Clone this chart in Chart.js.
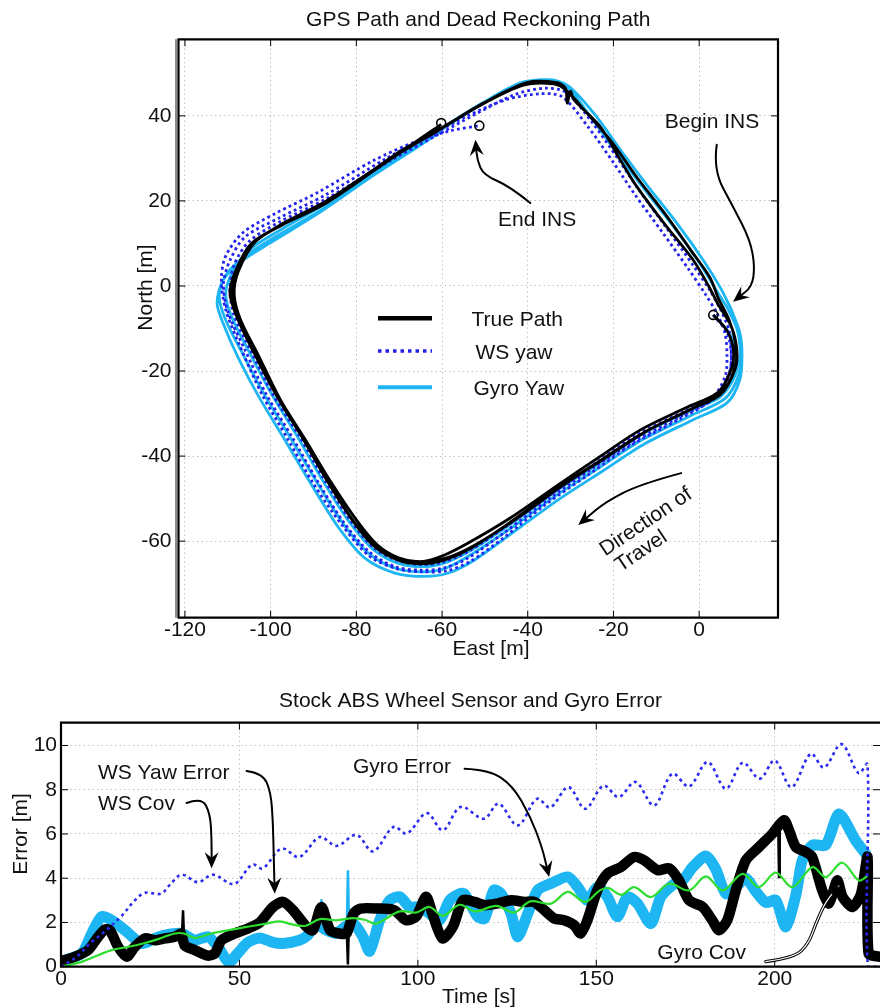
<!DOCTYPE html>
<html>
<head>
<meta charset="utf-8">
<script src="https://cdn.jsdelivr.net/npm/chart.js@4.4.0/dist/chart.umd.min.js"></script>
<style>
  html, body { margin: 0; padding: 0; background: #fff; overflow: hidden; }
  #pathBox { position: absolute; left: 0; top: 0; width: 880px; height: 670px; }
  #errorBox { position: absolute; left: 0; top: 670px; width: 880px; height: 345px; }
</style>
</head>
<body>
<div id="pathBox"><canvas id="graficoPath" width="880" height="670"></canvas></div>
<div id="errorBox"><canvas id="graficoErro" width="880" height="345"></canvas></div>
<script>
// ---- top plot: east / north in metres, one array per lap ----
const truePathLap1 = [[3.3,-6.8],[6.5,-10.5],[8,-15],[7.5,-19.5],[4.4,-25],[-3,-28.6],[-13.8,-33.9],[-23,-40],[-32.4,-46.4],[-44,-54.5],[-54,-60.5],[-60,-63.5],[-65,-64.8],[-70,-64],[-75,-61],[-80,-55],[-86,-46],[-92,-36],[-97.7,-26.8],[-103,-16],[-107,-8],[-108.5,-2],[-107.5,3.5],[-103.5,10.5],[-97,14.5],[-86,20.2],[-70,31.5],[-60.2,37.1],[-50.3,43],[-40.2,47.8],[-33.2,47.8],[-31.2,46.5],[-30.8,43],[-30,45.8],[-29.3,43.9],[-23.1,37.5],[-18.4,29.6],[-14.5,23.3],[-8,14.5],[-1.4,6.1],[2.2,0],[4.5,-4.5]];
const truePathLap2 = [[4.5,-4.5],[7.5,-9.5],[8.8,-15],[8.4,-19.5],[5,-25.5],[-2,-29],[-13,-34.5],[-23,-41],[-33,-47.5],[-44,-55.5],[-53,-61.5],[-59,-64.3],[-64,-65.3],[-69.5,-64.7],[-75.5,-61.5],[-81,-55],[-87,-45.5],[-93,-35],[-98.5,-26],[-104,-15.5],[-108,-7],[-109.5,-1.5],[-108,4],[-104.5,10],[-98,14],[-87,19.5],[-71,30.5],[-61,36.5],[-51,42.5],[-41,47.2],[-34,47.5],[-31,46],[-26.5,41],[-20.5,34],[-14.5,25.5],[-8,17],[-2,8.5],[2.5,2],[4.5,-3]];
const truePathLap3 = [[4.5,-3],[7,-8],[8.4,-13],[8.6,-18],[6,-24],[-1,-28.5],[-12,-34],[-22,-40.5],[-32,-47],[-43,-55],[-52.5,-61],[-58.5,-63.8],[-63.5,-64.8],[-69,-64.3],[-75,-61.2],[-80.5,-55.5],[-86.5,-46],[-92.5,-35.5],[-98,-26.5],[-103.5,-16],[-107.5,-7.5],[-109,-2],[-108,3.5],[-104,10],[-97.5,14.5],[-87,20],[-75,28],[-66,34],[-60.2,38]];

const wsYawLap1 = [[3.3,-6.8],[6.5,-11],[7.5,-16],[7,-20.5],[4,-25.5],[-3.5,-29.5],[-14.5,-35],[-24,-41.5],[-34,-48.5],[-45,-56.5],[-54,-62.5],[-60,-65],[-65,-65.5],[-70.5,-64.5],[-76,-61.5],[-81.5,-55],[-87.5,-45.5],[-93.5,-35],[-99.5,-25.5],[-104.5,-15.5],[-108.5,-7],[-109.5,-1],[-108.5,5],[-105,10.5],[-98,15],[-87,20.5],[-72,29.5],[-62,35],[-52,40.5],[-43,45],[-36,46.5],[-31,45.5],[-25,38.5],[-19,30],[-14,22.5],[-7.5,13.5],[-1.5,5],[2.5,-1],[5,-5.5]];
const wsYawLap2 = [[5,-5.5],[7,-10.5],[7.5,-16],[7,-21],[3.5,-26.5],[-4,-30.5],[-15,-36.5],[-25,-43],[-35,-50],[-45.5,-58],[-54,-64],[-59.5,-66.3],[-65,-66.8],[-71,-66],[-77,-62.5],[-83,-55.5],[-89,-46],[-95,-35.5],[-101,-25.5],[-106,-15],[-110,-6],[-111,0.5],[-109.5,6],[-106,11.5],[-98,16],[-87,21.5],[-73,30],[-63,35.3],[-54,40],[-45,43.8],[-37,45.2],[-32,44.5],[-26,37.5],[-20,29],[-15,21.5],[-8.5,12.5],[-2.5,4],[1.5,-2],[4,-6]];
const wsYawLap3 = [[4,-6],[6,-11],[6.5,-16.5],[6,-21.5],[2.5,-27],[-5,-31.5],[-16,-37.5],[-26,-44.5],[-36,-51.5],[-46,-59.5],[-53.5,-64.8],[-59,-67],[-64.5,-67.2],[-70.5,-66.5],[-77,-63.5],[-83.5,-56],[-90,-46.5],[-96,-36],[-102,-25.5],[-107,-14.5],[-110.5,-5.5],[-111.5,1.5],[-110.5,7],[-106.5,12.5],[-99,17],[-89,22],[-76,29.5],[-66,34],[-58,36.5],[-51.3,37.7]];

const gyroYawLap1 = [[3.3,-6.8],[7,-11],[8.8,-16],[8.4,-21],[5,-26],[-2.5,-29.5],[-13.5,-35],[-23,-41.5],[-33,-48],[-44,-56],[-53,-62],[-59,-65],[-64,-66],[-70,-65.3],[-76,-62],[-82,-55],[-88,-45.5],[-94,-35],[-100,-25],[-105,-15.5],[-109,-7.5],[-110.5,-2],[-109,3],[-105,8.5],[-98,13],[-87,19.5],[-72,30],[-61,36.5],[-51,42.8],[-41,48],[-34,48],[-30.5,46.5],[-25.5,40],[-19,31],[-13,23],[-6,14],[0,5.5],[4,-1],[6.5,-5]];
const gyroYawLap2 = [[6.5,-5],[8.8,-10],[9.6,-15.5],[9.2,-21],[6,-26.5],[-2,-30.5],[-13,-36],[-23,-42.5],[-33,-49],[-44,-57],[-53,-63],[-59,-66.3],[-64,-67.2],[-70.5,-66.5],[-77,-63],[-83,-56],[-89,-46.5],[-95.5,-35.5],[-101.5,-25.5],[-106.5,-16],[-110.5,-8],[-112,-2.5],[-110.5,2.5],[-106,7],[-99,11.5],[-88,18],[-73,28.5],[-62,35.5],[-52,42],[-42,47.5],[-35,48.5],[-30.5,47],[-24.5,40.5],[-18,31.5],[-12,23.5],[-5,14.5],[1,6],[5,-0.5],[7.5,-5.5]];
const gyroYawLap3 = [[7.5,-5.5],[9.5,-11],[10,-16],[9.5,-22],[6.5,-27.5],[-1.5,-31.5],[-12.5,-37],[-22.5,-43.5],[-32.5,-50],[-43.5,-58],[-52.5,-64.5],[-58.5,-67.5],[-64,-68.3],[-71,-67.5],[-78,-64],[-84,-57],[-90,-47.5],[-96.5,-36.5],[-102.5,-26.5],[-107.5,-17],[-111,-9],[-112.5,-4],[-111,1.5],[-106.5,6],[-99.5,10.5],[-89,17],[-76,26],[-66,32.5],[-60,36.5]];

const insMarks = [[3.3,-6.8],[-51.3,37.7],[-60.2,38.3]];

const eastTicks = [-120, -100, -80, -60, -40, -20, 0];
const northTicks = [-60, -40, -20, 0, 20, 40];

// ---- bottom plot: time [s] / error [m] ----
const wsCov = [[0,0],[4.4,0.45],[8.1,1.05],[12.3,1.6],[17,2.3],[20.7,3.0],[23.5,3.34],[28,3.3],[30.5,3.7],[33.8,4.16],[38.4,3.82],[42.6,4.16],[48.5,3.74],[53.6,4.62],[56.5,4.44],[61.8,5.34],[66.8,4.96],[72.5,5.86],[77.2,5.46],[82.8,5.96],[87.4,5.21],[93.2,6.32],[96.9,6.02],[102.5,6.94],[107,6.17],[112,7.22],[118.5,6.69],[122.6,7.37],[128,6.39],[133.4,7.59],[137.1,7.2],[142.2,8.12],[146.9,7.14],[152,8.18],[156.3,7.67],[161,8.35],[166.2,7.29],[171.3,8.72],[176,8.15],[181.2,9.25],[186.3,8.05],[191,9.22],[195.8,8.5],[200,9.32],[204.7,8.12],[210.1,9.62],[213.8,9.0],[218.7,10.06],[223.5,8.75],[226,9.15],[226.1,0],[229.5,0]];
const gyroCov = [[0,0],[5.8,0.22],[10.4,0.52],[14.2,0.75],[19,0.9],[23,1.05],[26.3,1.2],[31.9,1.5],[34.5,1.5],[37.5,1.3],[42.2,1.5],[47,1.65],[52,1.8],[57.6,1.95],[61.3,2.05],[65,1.9],[68.5,1.85],[72.5,2.15],[77.2,2.1],[82,2.2],[85.5,2.1],[88.3,1.95],[94.9,2.5],[99.5,2.45],[103.3,2.7],[107,2.3],[111.7,2.8],[116,2.5],[122,2.75],[127,2.45],[131.5,2.95],[137.3,2.85],[142,3.38],[146.8,2.93],[151,3.45],[153.5,3.55],[157,3.25],[160.6,3.6],[165.3,3.15],[170.4,3.75],[176,3.45],[180.7,4.08],[185.4,3.45],[191,4.2],[195.5,3.6],[200.3,4.25],[204.9,3.6],[210.6,4.5],[214.3,4.05],[218.9,4.7],[223.6,3.9],[226,4.1]];
const wsYawError = [[0,0.25],[3.9,0.45],[7.6,0.75],[10.4,1.35],[12.3,1.68],[13.7,1.65],[16,0.9],[18.4,0.45],[20.7,0.9],[23.5,1.28],[26.3,1.2],[29.1,1.28],[31.9,1.35],[33.6,1.5],[34.7,0.95],[37.5,0.75],[41.2,0.5],[43.1,0.6],[45,1.2],[48.7,1.5],[52.4,1.73],[55.7,2.0],[59.4,2.7],[62.2,2.93],[65,2.56],[68.8,1.8],[70.6,1.65],[73,2.7],[75.4,1.65],[78.1,1.5],[80,1.5],[82,2.4],[83.9,2.63],[88.6,2.63],[93.3,2.56],[96.7,2.1],[99.5,2.26],[102.3,3.16],[104.2,2.33],[106.9,1.28],[109.8,1.8],[112.6,3.0],[115.9,2.93],[118.7,2.78],[122.4,2.86],[126.1,3.0],[129.9,2.93],[132.6,2.93],[135.4,2.56],[138.2,2.18],[141,2.1],[143.8,1.88],[145.6,1.5],[147.5,2.1],[150.3,3.46],[153.1,4.2],[156.9,4.5],[160.6,4.96],[163.4,4.81],[167.2,4.36],[170.4,4.45],[173.2,3.9],[176,3.0],[179.8,2.7],[182.5,2.1],[184.4,1.65],[186.7,2.1],[189.1,3.46],[191.9,4.81],[195.6,5.41],[199.4,6.02],[202.6,6.62],[204,6.17],[205.9,5.41],[208.7,5.19],[210.5,4.96],[213.3,3.46],[215.2,2.86],[217.5,3.9],[219,3.16],[221.8,2.7],[224.2,3.3],[226,4.96],[226.3,0.6],[229.5,0.45]];
const gyroError = [[0,0.23],[5.8,0.6],[8.6,1.5],[11.4,2.26],[14.2,2.1],[17.9,1.65],[22.6,1.05],[26.3,1.28],[29.1,1.43],[33.8,1.5],[37.5,1.2],[41.2,1.35],[44,0.9],[47,0.2],[49.5,0.6],[52.4,1.1],[55.7,1.3],[59.4,1.1],[62.2,1.05],[66.8,1.2],[69,1.4],[71.5,1.9],[74.4,1.65],[77.2,1.5],[79.5,1.8],[82,1.95],[84.6,1.35],[86.5,0.7],[89.3,2.1],[92.1,3.0],[94.9,3.16],[97.7,2.7],[100.5,2.7],[103.3,2.4],[106.1,2.1],[108.9,3.0],[111.7,3.3],[113,3.3],[116.8,2.26],[118.7,2.18],[121.3,3.46],[123.3,3.3],[126.1,2.4],[128,1.35],[130.8,2.4],[133.6,3.46],[137.3,3.76],[142,4.06],[144.8,3.6],[147.5,3.0],[150.3,3.6],[153.1,3.16],[155.9,2.26],[158.7,3.16],[161.5,2.86],[165.3,1.95],[168.1,3.16],[171.9,3.76],[174.2,3.9],[177,4.5],[180.7,5.0],[183.5,4.4],[186.3,3.3],[189.1,3.6],[191.9,4.0],[194.7,3.4],[197.5,2.9],[200.3,3.0],[203.1,1.8],[206,3.3],[207.7,4.8],[210.6,5.5],[214.3,5.5],[218,6.9],[222.7,5.7],[225.5,5.1]];
const wsYawSpikes = [[33.9,1.45],[34.2,2.55],[34.5,1.2],null,[80.1,1.5],[80.4,0.1],[80.7,2.2],null,[201.0,6.2],[201.2,4.05],[201.4,6.3]];
const gyroSpikes = [[72.7,2.0],[73,3.05],[73.3,1.9],null,[80.1,1.8],[80.4,4.36],[80.7,1.9]];

const timeTicks = [0, 50, 100, 150, 200];
const errorTicks = [0, 2, 4, 6, 8, 10];

Chart.defaults.font.family = "'Liberation Sans', Arial, Helvetica, sans-serif";
Chart.defaults.font.size = 21;
Chart.defaults.color = '#111';
Chart.defaults.animation = false;

const pts = arr => arr.map(p => p ? { x: p[0], y: p[1] } : { x: null, y: null });
const fixTicks = values => scale => { scale.ticks = values.map(v => ({ value: v })); };

function drawCurve(ctx, p) {
    ctx.beginPath();
    ctx.moveTo(p[0][0], p[0][1]);
    for (let i = 1; i < p.length - 1; i++) {
        const mx = (p[i][0] + p[i + 1][0]) / 2;
        const my = (p[i][1] + p[i + 1][1]) / 2;
        ctx.quadraticCurveTo(p[i][0], p[i][1], mx, my);
    }
    ctx.lineTo(p[p.length - 1][0], p[p.length - 1][1]);
    ctx.stroke();
}

function drawHead(ctx, from, tip, len, half) {
    const a = Math.atan2(tip[1] - from[1], tip[0] - from[0]);
    const c = Math.cos(a), s = Math.sin(a);
    ctx.beginPath();
    ctx.moveTo(tip[0], tip[1]);
    ctx.lineTo(tip[0] - len * c + half * s, tip[1] - len * s - half * c);
    ctx.lineTo(tip[0] - len * 0.65 * c, tip[1] - len * 0.65 * s);
    ctx.lineTo(tip[0] - len * c - half * s, tip[1] - len * s + half * c);
    ctx.closePath();
    ctx.fill();
}

// frame, inner ticks, notes, arrows, legend and axis titles
function notesPlugin(cfg) {
    return {
        id: 'notas',
        afterDatasetsDraw(chart) {
            const ctx = chart.ctx, a = chart.chartArea;
            const sx = chart.scales.x, sy = chart.scales.y;
            const toPx = p => [sx.getPixelForValue(p[0]), sy.getPixelForValue(p[1])];
            ctx.save();

            ctx.strokeStyle = '#000';
            ctx.lineWidth = 1;
            ctx.beginPath();
            sx.ticks.forEach(t => {
                const x = sx.getPixelForValue(t.value);
                ctx.moveTo(x, a.bottom); ctx.lineTo(x, a.bottom - 7);
                ctx.moveTo(x, a.top); ctx.lineTo(x, a.top + 7);
            });
            sy.ticks.forEach(t => {
                const y = sy.getPixelForValue(t.value);
                ctx.moveTo(a.left, y); ctx.lineTo(a.left + 7, y);
                ctx.moveTo(a.right, y); ctx.lineTo(a.right - 7, y);
            });
            ctx.stroke();

            ctx.lineWidth = 2.2;
            ctx.beginPath();
            if (cfg.rightEdge) {
                ctx.rect(a.left, a.top, a.right - a.left, a.bottom - a.top);
            } else {
                ctx.moveTo(a.right + 2, a.top); ctx.lineTo(a.left, a.top);
                ctx.lineTo(a.left, a.bottom); ctx.lineTo(a.right + 2, a.bottom);
            }
            ctx.stroke();
            if (cfg.grayEdge) {
                ctx.strokeStyle = '#8a8a8a';
                ctx.lineWidth = 2;
                ctx.beginPath();
                ctx.moveTo(a.left - 2.5, a.top); ctx.lineTo(a.left - 2.5, a.bottom);
                ctx.stroke();
            }

            ctx.fillStyle = '#111';
            ctx.textBaseline = 'middle';
            ctx.font = "21px 'Liberation Sans', Arial, sans-serif";
            cfg.texts.forEach(n => {
                const p = toPx(n.at);
                ctx.save();
                ctx.translate(p[0], p[1]);
                ctx.rotate((n.rot || 0) * Math.PI / 180);
                ctx.textAlign = n.align || 'center';
                ctx.fillText(n.text, 0, 0);
                ctx.restore();
            });

            cfg.arrows.forEach(ar => {
                const p = ar.pts.map(toPx);
                ctx.lineCap = 'round';
                ctx.lineJoin = 'round';
                if (ar.hollow) {
                    ctx.strokeStyle = '#000'; ctx.lineWidth = 3.2;
                    drawCurve(ctx, p);
                    ctx.strokeStyle = '#fff'; ctx.lineWidth = 1.2;
                    drawCurve(ctx, p);
                } else {
                    ctx.strokeStyle = '#000'; ctx.lineWidth = 2;
                    drawCurve(ctx, p.slice(0, -1).concat([[
                        p[p.length - 1][0] - (p[p.length - 1][0] - p[p.length - 2][0]) * 0.3,
                        p[p.length - 1][1] - (p[p.length - 1][1] - p[p.length - 2][1]) * 0.3
                    ]]));
                }
                ctx.fillStyle = '#000';
                drawHead(ctx, p[p.length - 2], p[p.length - 1], 16, 7);
            });

            (cfg.legend || []).forEach(g => {
                const y = a.top + g.dy;
                ctx.strokeStyle = g.color;
                ctx.lineWidth = g.width;
                ctx.lineCap = 'butt';
                ctx.setLineDash(g.dash || []);
                ctx.beginPath();
                ctx.moveTo(a.left + 199.5, y);
                ctx.lineTo(a.left + 253.5, y);
                ctx.stroke();
                ctx.setLineDash([]);
                ctx.fillStyle = '#111';
                ctx.textAlign = 'left';
                ctx.fillText(g.label, a.left + g.dx, y + 2);
            });

            ctx.fillStyle = '#111';
            ctx.textAlign = 'center';
            ctx.fillText(cfg.xTitle, a.left + cfg.xTitleAt[0], a.bottom + cfg.xTitleAt[1]);
            ctx.save();
            ctx.translate(a.left + cfg.yTitleAt[0], a.top + cfg.yTitleAt[1]);
            ctx.rotate(-Math.PI / 2);
            ctx.fillText(cfg.yTitle, 0, 0);
            ctx.restore();

            ctx.restore();
        }
    };
}

const gridStyle = { color: '#c2c2c2', lineWidth: 1, drawTicks: false };
const gridBorder = { display: false, dash: [1.5, 3] };

// ---------------- GPS path chart ----------------
new Chart(document.getElementById('graficoPath'), {
    type: 'scatter',
    data: {
        datasets: [
            {
                label: 'INS marks',
                data: pts(insMarks),
                showLine: false,
                pointRadius: 4.5,
                pointBorderWidth: 1.6,
                pointBorderColor: '#000',
                pointBackgroundColor: 'rgba(255,255,255,0)'
            },
            {
                label: 'True Path',
                data: pts([...truePathLap1, ...truePathLap2, ...truePathLap3]),
                showLine: true,
                borderColor: '#000',
                borderWidth: 2.8,
                pointRadius: 0,
                tension: 0.3,
                borderJoinStyle: 'round'
            },
            {
                label: 'WS yaw',
                data: pts([...wsYawLap1, ...wsYawLap2, ...wsYawLap3]),
                showLine: true,
                borderColor: '#2323ee',
                borderWidth: 2.8,
                borderDash: [2.8, 3.2],
                pointRadius: 0,
                tension: 0.3
            },
            {
                label: 'Gyro Yaw',
                data: pts([...gyroYawLap1, ...gyroYawLap2, ...gyroYawLap3]),
                showLine: true,
                borderColor: '#1db6f2',
                borderWidth: 2.8,
                pointRadius: 0,
                tension: 0.3
            }
        ]
    },
    options: {
        responsive: false,
        layout: { padding: { left: 0, right: 102, top: 0, bottom: 0 } },
        plugins: {
            legend: { display: false },
            tooltip: { enabled: false },
            title: {
                display: true,
                text: 'GPS Path and Dead Reckoning Path',
                fullSize: false,
                color: '#111',
                font: { size: 21, weight: 'normal' },
                padding: { top: 7.4, bottom: 6.7 }
            }
        },
        scales: {
            x: {
                type: 'linear',
                min: -121.5,
                max: 18.4,
                afterBuildTicks: fixTicks(eastTicks),
                afterFit: s => { s.height = 52.3; },
                ticks: { padding: 0, maxRotation: 0 },
                grid: gridStyle,
                border: gridBorder
            },
            y: {
                type: 'linear',
                min: -78,
                max: 58,
                afterBuildTicks: fixTicks(northTicks),
                afterFit: s => { s.width = 178.5; },
                ticks: { padding: 7 },
                grid: gridStyle,
                border: gridBorder
            }
        }
    },
    plugins: [notesPlugin({
        rightEdge: true,
        grayEdge: true,
        texts: [
            { text: 'Begin INS', at: [3.0, 38.6] },
            { text: 'End INS', at: [-37.8, 15.5] },
            { text: 'Direction of', at: [-12.4, -55.5], rot: -34 },
            { text: 'Travel', at: [-13.5, -62.4], rot: -34 }
        ],
        arrows: [
            { pts: [[4.1,33.2],[3.3,27.3],[7.9,18.7],[11.9,10.8],[13,4.5],[12.3,-0.2],[7.9,-3.7]] },
            { pts: [[-39.4,19.5],[-44.1,23.4],[-50.3,26.1],[-51.8,29.6],[-52.2,34.4]] },
            { pts: [[-4.2,-44],[-13.8,-46.6],[-21.9,-50.8],[-28.2,-56.2]] }
        ],
        legend: [
            { label: 'True Path', color: '#000', width: 4.5, dy: 279, dx: 293 },
            { label: 'WS yaw', color: '#2323ee', width: 3.5, dash: [3.5, 4], dy: 311.7, dx: 297 },
            { label: 'Gyro Yaw', color: '#1db6f2', width: 4, dy: 348, dx: 295 }
        ],
        xTitle: 'East [m]', xTitleAt: [312.5, 31.8],
        yTitle: 'North [m]', yTitleAt: [-32.5, 248.2]
    })]
});

// ---------------- error chart ----------------
new Chart(document.getElementById('graficoErro'), {
    type: 'scatter',
    data: {
        datasets: [
            {
                label: 'WS Cov',
                data: pts(wsCov),
                showLine: true,
                borderColor: '#2a2af0',
                borderWidth: 2.6,
                borderDash: [3, 3.6],
                pointRadius: 0,
                tension: 0.35,
                clip: 0
            },
            {
                label: 'Gyro Cov',
                data: pts(gyroCov),
                showLine: true,
                borderColor: '#2fdd2f',
                borderWidth: 2.2,
                pointRadius: 0,
                tension: 0.35,
                clip: 0
            },
            {
                label: 'WS spikes',
                data: pts(wsYawSpikes),
                showLine: true,
                spanGaps: false,
                borderColor: '#000',
                borderWidth: 2.5,
                pointRadius: 0,
                clip: 0
            },
            {
                label: 'WS Yaw Error',
                data: pts(wsYawError),
                showLine: true,
                borderColor: '#000',
                borderWidth: 10.5,
                borderJoinStyle: 'round',
                borderCapStyle: 'round',
                pointRadius: 0,
                tension: 0.25,
                clip: 0
            },
            {
                label: 'Gyro spikes',
                data: pts(gyroSpikes),
                showLine: true,
                spanGaps: false,
                borderColor: '#1db6f2',
                borderWidth: 2.5,
                pointRadius: 0,
                clip: 0
            },
            {
                label: 'Gyro Error',
                data: pts(gyroError),
                showLine: true,
                borderColor: '#1db6f2',
                borderWidth: 11,
                borderJoinStyle: 'round',
                borderCapStyle: 'round',
                pointRadius: 0,
                tension: 0.25,
                clip: 0
            }
        ]
    },
    options: {
        responsive: false,
        layout: { padding: { left: 0, right: 0, top: 0, bottom: 0 } },
        plugins: {
            legend: { display: false },
            tooltip: { enabled: false },
            title: {
                display: true,
                text: 'Stock ABS Wheel Sensor and Gyro Error',
                fullSize: false,
                color: '#111',
                font: { size: 21, weight: 'normal' },
                padding: { top: 18.9, bottom: 8.6 }
            }
        },
        scales: {
            x: {
                type: 'linear',
                min: 0,
                max: 229.5,
                afterBuildTicks: fixTicks(timeTicks),
                afterFit: s => { s.height = 48.3; },
                ticks: { padding: 0, maxRotation: 0 },
                grid: gridStyle,
                border: gridBorder
            },
            y: {
                type: 'linear',
                min: 0,
                max: 11.03,
                afterBuildTicks: fixTicks(errorTicks),
                afterFit: s => { s.width = 61; },
                ticks: { padding: 4 },
                grid: gridStyle,
                border: gridBorder
            }
        }
    },
    plugins: [notesPlugin({
        rightEdge: false,
        texts: [
            { text: 'WS Yaw Error', at: [10.35, 8.74], align: 'left' },
            { text: 'WS Cov', at: [10.35, 7.35], align: 'left' },
            { text: 'Gyro Error', at: [81.8, 9.02], align: 'left' },
            { text: 'Gyro Cov', at: [167.1, 0.6], align: 'left' }
        ],
        arrows: [
            { pts: [[52,8.85],[56.5,8.75],[58.8,7.9],[59.4,6.5],[59.6,5],[59.9,3.3]] },
            { pts: [[35.2,7.4],[39.5,7.65],[41.8,6.9],[42.2,5.8],[42.2,4.45]] },
            { pts: [[113.1,8.95],[120,8.9],[126.5,8.2],[131.5,6.8],[134.8,5.4],[136.8,4.05]] },
            { pts: [[197.5,0.23],[205.5,0.4],[209.5,1.05],[211.5,1.95],[214.3,2.95],[218,3.65]], hollow: true }
        ],
        xTitle: 'Time [s]', xTitleAt: [418, 30.3],
        yTitle: 'Error [m]', yTitleAt: [-39.5, 111.3]
    })]
});
</script>
</body>
</html>
